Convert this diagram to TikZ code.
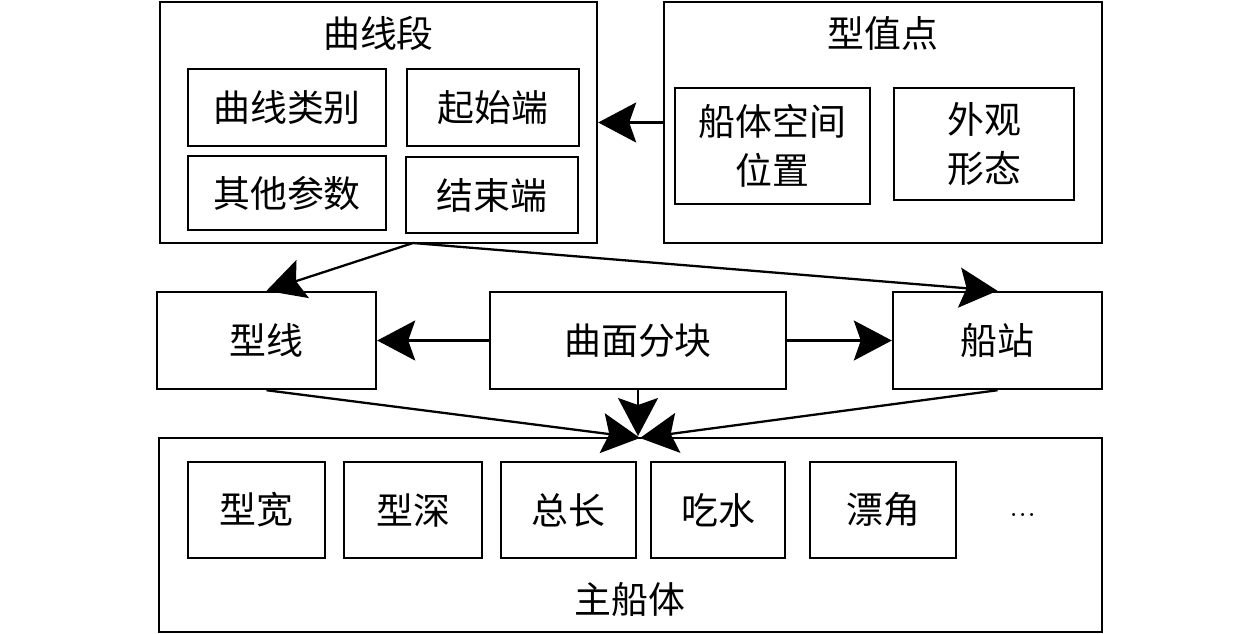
\documentclass[tikz,border=0pt]{standalone}
\usepackage{fontspec}
\newfontfamily\cjk{Noto Sans CJK SC}
\usetikzlibrary{arrows.meta}
\tikzset{
  box/.style={draw, line width=1.4pt, inner sep=0pt, align=center,
    font=\cjk\fontsize{21}{28}\selectfont},
  title/.style={inner sep=0pt, font=\cjk\fontsize{21}{28}\selectfont},
}
\begin{document}
\begin{tikzpicture}[x=0.02cm, y=-0.02cm, line width=1.3pt,
    >={Stealth[length=0.76cm, width=0.8cm, inset=0.14cm]}]
    \useasboundingbox (0,0) rectangle (1260,633);
    % curve segment
    \node[box, minimum width=8.74cm, minimum height=4.82cm] (seg) at (378.5,122.5) {};
    \node[title] (segt) at (378.5,33) {曲线段};
    \node[box, minimum width=3.96cm, minimum height=1.54cm] (kind) at (287,107.5) {曲线类别};
    \node[box, minimum width=3.44cm, minimum height=1.54cm] (start) at (493,107.5) {起始端};
    \node[box, minimum width=3.96cm, minimum height=1.48cm] (param) at (287,193) {其他参数};
    \node[box, minimum width=3.44cm, minimum height=1.52cm] (end) at (492,195) {结束端};
    % offset points
    \node[box, minimum width=8.76cm, minimum height=4.82cm] (val) at (883,122.5) {};
    \node[title] (valt) at (883,33) {型值点};
    \node[box, minimum width=3.9cm, minimum height=2.32cm] (pos) at (772.5,146) {船体空间\\位置};
    \node[box, minimum width=3.6cm, minimum height=2.24cm] (form) at (984,144) {外观\\形态};
    % middle row
    \node[box, minimum width=4.38cm, minimum height=1.94cm] (line) at (266.5,340.5) {型线};
    \node[box, minimum width=5.92cm, minimum height=1.94cm] (patch) at (638,340.5) {曲面分块};
    \node[box, minimum width=4.18cm, minimum height=1.94cm] (stat) at (997.5,340.5) {船站};
    % main hull
    \node[box, minimum width=18.86cm, minimum height=3.88cm] (hull) at (630.5,535) {};
    \node[title] (hullt) at (630,600) {主船体};
    \node[box, minimum width=2.74cm, minimum height=1.92cm] (beam) at (256.5,510) {型宽};
    \node[box, minimum width=2.76cm, minimum height=1.92cm] (depth) at (413,510) {型深};
    \node[box, minimum width=2.7cm, minimum height=1.92cm] (len) at (568.5,510) {总长};
    \node[box, minimum width=2.68cm, minimum height=1.92cm] (draft) at (718,510) {吃水};
    \node[box, minimum width=2.92cm, minimum height=1.92cm] (drift) at (883,510) {漂角};
    \node[title, font=\fontsize{21}{28}\selectfont] (more) at (1023,515) {...};
    % connectors
    \coordinate (segout) at (413,243);
    \coordinate (hullin) at (640,438);
    \coordinate (patchin) at (638,436);
    \draw[->] (val.west) -- (seg.east);
    \draw[->] (segout) -- (line.north);
    \draw[->] (segout) -- (stat.north);
    \draw[->] (patch.west) -- (line.east);
    \draw[->] (patch.east) -- (stat.west);
    \draw[->] (line.south) -- (hullin);
    \draw[->] (patch.south) -- (patchin);
    \draw[->] (stat.south) -- (hullin);
\end{tikzpicture}
\end{document}
